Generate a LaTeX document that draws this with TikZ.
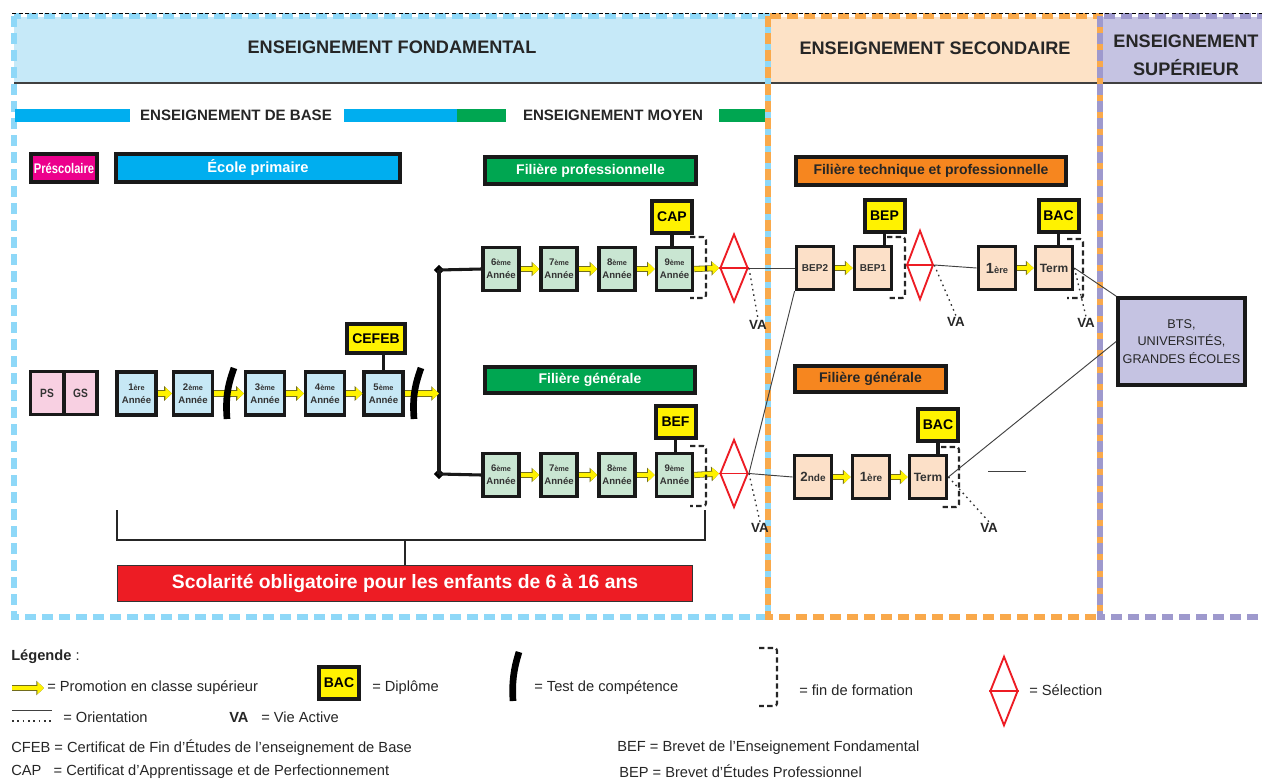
\documentclass[tikz,border=0pt]{standalone}
\usepackage{fontspec}
\setmainfont{Liberation Sans}
\usetikzlibrary{arrows.meta,shapes.geometric}

\definecolor{fondbg}{HTML}{C6E9F8}
\definecolor{fonddash}{HTML}{8ED8F8}
\definecolor{secbg}{HTML}{FDE2C6}
\definecolor{secdash}{HTML}{F9A94B}
\definecolor{supbg}{HTML}{C5C3E2}
\definecolor{supdash}{HTML}{9E99CD}
\definecolor{cyanbar}{HTML}{00AEEF}
\definecolor{vertbar}{HTML}{00A651}
\definecolor{prescol}{HTML}{EC008C}
\definecolor{orangebox}{HTML}{F6861F}
\definecolor{rouge}{HTML}{ED1C24}
\definecolor{jaune}{HTML}{FFF200}
\definecolor{primbg}{HTML}{C7E8F5}
\definecolor{moyenbg}{HTML}{C9E6D2}
\definecolor{secbox}{HTML}{FCE0C8}
\definecolor{psbg}{HTML}{F8D0E2}

\newcommand{\ord}[1]{{\fontsize{5.5}{5.5}\selectfont #1}}
\newcommand{\taille}[1]{\fontsize{#1}{#1}\selectfont}

\begin{document}
\begin{tikzpicture}[x=0.75pt, y=-0.75pt,
    cadre/.style={draw=#1, line width=4pt, dash pattern=on 8.25pt off 4.5pt},
    titre/.style={font=\bfseries\fontsize{13.6}{21}\selectfont, text=black!85, align=center},
    bande/.style={font=\bfseries\fontsize{11.3}{13}\selectfont, text=black!85},
    filiere/.style={draw=black!90, line width=3pt, minimum height=21pt, inner sep=0pt, font=\bfseries\fontsize{10.5}{12}\selectfont},
    annee/.style={draw=black!90, line width=2.6pt, minimum width=28pt, minimum height=32pt, inner sep=0pt, align=center, font=\bfseries\fontsize{7.2}{9.5}\selectfont, text=black!80},
    diplome/.style={draw=black!90, fill=jaune, line width=3pt, minimum width=30pt, minimum height=24pt, inner sep=0pt, font=\bfseries\fontsize{10.5}{12}\selectfont},
    promo/.style={draw=jaune, line width=3.4pt, -{Triangle[length=5pt,width=9pt]},
        preaction={draw=olive!75!black, line width=4.6pt, -{Triangle[length=5.8pt,width=10.6pt]}}},
    trait/.style={draw=black!90, line width=2.3pt},
    orient/.style={draw=black!75, line width=0.7pt},
    vadot/.style={draw=black!80, line width=1pt, dash pattern=on 1.2pt off 2.8pt},
    fin/.style={draw=black!85, line width=1.6pt, dash pattern=on 4pt off 2.5pt, rounded corners=2pt},
    selec/.style={diamond, draw=rouge, line width=1.4pt, minimum width=21pt, minimum height=51pt, inner sep=0pt},
    selligne/.style={draw=rouge, line width=1.4pt},
    jonction/.style={diamond, fill=black, inner sep=0pt, minimum size=8pt},
    testc/.style={draw=black, line width=5pt},
    va/.style={font=\bfseries\fontsize{10}{12}\selectfont, text=black!85, inner sep=1pt},
    leg/.style={anchor=west, inner sep=0pt, font=\fontsize{11}{12}\selectfont, text=black!85}
]
\useasboundingbox (0,0) rectangle (1262,778);

% cadres
\fill[fondbg] (14,17) rectangle (768,83);
\fill[secbg] (768,17) rectangle (1100,83);
\fill[supbg] (1100,17) rectangle (1262,83);
\draw[black!75, line width=1.1pt] (14,83) -- (1262,83);
\draw[cadre=fonddash] (14,16) rectangle (768,617);
\draw[cadre=secdash] (768,16) rectangle (1100,617);
\draw[cadre=supdash] (1100,16) rectangle (1280,617);
\draw[black, line width=0.5pt, dash pattern=on 3pt off 2pt] (12,13) -- (1262,13);

\node[titre] (hfond) at (392,47) {ENSEIGNEMENT FONDAMENTAL};
\node[titre] (hsec) at (935,48) {ENSEIGNEMENT SECONDAIRE};
\node[titre] (hsup) at (1186,55) {ENSEIGNEMENT\\SUPÉRIEUR};

\fill[cyanbar] (15,109) rectangle (130,122);
\fill[cyanbar] (344,109) rectangle (457,122);
\fill[vertbar] (457,109) rectangle (506,122);
\fill[vertbar] (719,109) rectangle (765,122);
\node[bande] (base) at (236,115) {ENSEIGNEMENT DE BASE};
\node[bande] (moyen) at (613,115) {ENSEIGNEMENT MOYEN};

% filieres
\node[filiere, fill=prescol, text=white, minimum width=49.5pt] (presco) at (64,168) {\scalebox{0.8}[1]{Préscolaire}};
\node[filiere, fill=cyanbar, text=white, minimum width=213pt, font=\bfseries\fontsize{11}{12}\selectfont] (primaire) at (258,168) {École primaire};
\node[filiere, fill=vertbar, text=white, minimum width=158pt, minimum height=20pt] (fpro) at (590.5,170.5) {Filière professionnelle};
\node[filiere, fill=vertbar, text=white, minimum width=157.5pt, minimum height=19.5pt] (fgen) at (590,380) {Filière générale};
\node[filiere, fill=orangebox, text=black!85, minimum width=202.5pt] (ftech) at (931,171) {Filière technique et professionnelle};
\node[filiere, fill=orangebox, text=black!85, minimum width=113pt, minimum height=19.5pt] (fgensec) at (870.5,379) {Filière générale};

% enseignement de base
\node[annee, fill=psbg, minimum width=25pt, font=\bfseries\fontsize{9}{10}\selectfont] (ps) at (47,393) {\scalebox{0.85}[1]{PS}};
\node[annee, fill=psbg, minimum width=25pt, font=\bfseries\fontsize{9}{10}\selectfont] (gs) at (80.5,393) {\scalebox{0.85}[1]{GS}};

\foreach \n/\x/\lab in {1/136.5/1\ord{ère}, 2/193/2\ord{ème}, 3/265/3\ord{ème}, 4/325/4\ord{ème}, 5/383.5/5\ord{ème}}
  \node[annee, fill=primbg, minimum width=29pt] (p\n) at (\x,393.5) {\lab\\Année};

\foreach \a/\b in {p1/p2, p2/p3, p3/p4, p4/p5}
  \draw[promo] (\a.east) -- (\b.west);

\node[diplome, minimum width=43.5pt, minimum height=22pt] (cefeb) at (376,338.5) {CEFEB};
\draw[trait] (p5.north) -- (p5.north |- cefeb.south);

% orientation apres la 5eme
\node[jonction] (jhaut) at (439,270) {};
\node[jonction] (jbas) at (439,474) {};
\coordinate (jmil) at (439,393.5);
\draw[trait] (jhaut.center) -- (jbas.center);
\draw[promo] (p5.east) -- (jmil);

\draw[testc] (234,368) to[bend right=12] (227,419);
\draw[testc] (421,368) to[bend right=12] (414,419);

% enseignement moyen
\foreach \n/\x in {6/501, 7/559, 8/617, 9/674.5} {
  \node[annee, fill=moyenbg, minimum width=27pt] (m\n) at (\x,269) {\n\ord{ème}\\Année};
  \node[annee, fill=moyenbg, minimum width=27pt] (g\n) at (\x,475) {\n\ord{ème}\\Année};
}
\draw[trait] (jhaut.center) -- (m6.west);
\draw[trait] (jbas.center) -- (g6.west);
\foreach \a/\b in {6/7, 7/8, 8/9} {
  \draw[promo] (m\a.east) -- (m\b.west);
  \draw[promo] (g\a.east) -- (g\b.west);
}

\node[diplome] (cap) at (672,217) {CAP};
\draw[trait] (cap.south) -- (cap.south |- m9.north);
\node[diplome] (bef) at (675.5,422) {BEF};
\draw[trait] (bef.south) -- (bef.south |- g9.north);

\node[selec] (sel1) at (734,268) {};
\draw[selligne] (sel1.west) -- (sel1.east);
\node[selec] (sel2) at (734,473.5) {};
\draw[selligne] (sel2.west) -- (sel2.east);
\draw[promo] (m9.east) -- (sel1.west);
\draw[promo] (g9.east) -- (sel2.west);

% fins de formation
\foreach \xa/\xb/\ya/\yb in {690/706/237/298, 690/706/446/506, 887/905/237/298, 1067/1083/239/298, 941/959/447/507}
  \draw[fin] (\xa,\ya) -- (\xb,\ya) -- (\xb,\yb) -- (\xa,\yb);

% scolarite obligatoire
\node[draw=black!80, line width=0.8pt, fill=rouge, text=white, minimum width=431pt, minimum height=27pt, inner sep=0pt, font=\bfseries\fontsize{14.5}{16}\selectfont] (scol) at (405,583.5) {Scolarité obligatoire pour les enfants de 6 à 16 ans};
\coordinate (accol) at (405,540);
\draw[draw=black!85, line width=1.6pt] (117,510) -- (117,540) -- (705,540) -- (705,510);
\draw[draw=black!85, line width=1.6pt] (accol) -- (scol.north);

% enseignement secondaire
\node[annee, fill=secbox, font=\bfseries\fontsize{7.5}{9}\selectfont] (bep2) at (815,268) {BEP2};
\node[annee, fill=secbox, font=\bfseries\fontsize{7.5}{9}\selectfont] (bep1) at (873,268) {BEP1};
\node[annee, fill=secbox, font=\bfseries\fontsize{11}{12}\selectfont] (t1ere) at (997,268) {1{\taille{7}ère}};
\node[annee, fill=secbox, font=\bfseries\fontsize{9}{10}\selectfont] (tterm) at (1054,268) {Term};
\node[annee, fill=secbox, font=\bfseries\fontsize{10}{12}\selectfont] (g2nde) at (813,477) {2{\taille{7.5}nde}};
\node[annee, fill=secbox, font=\bfseries\fontsize{10}{12}\selectfont] (g1ere) at (871,477) {1{\taille{7.5}ère}};
\node[annee, fill=secbox, font=\bfseries\fontsize{9}{10}\selectfont] (gterm) at (928,477) {Term};

\node[diplome] (bep) at (884.5,215.5) {BEP};
\draw[trait] (bep.south) -- (bep.south |- bep1.north);
\node[diplome] (bact) at (1058.5,215.5) {BAC};
\draw[trait] (bact.south) -- (bact.south |- tterm.north);
\node[diplome] (bacg) at (938,425) {BAC};
\draw[trait] (bacg.south) -- (bacg.south |- gterm.north);

\node[selec, minimum width=20pt, minimum height=52pt] (sel3) at (920,265) {};
\draw[selligne] (sel3.west) -- (sel3.east);

\draw[promo] (bep2.east) -- (bep1.west);
\draw[promo] (t1ere.east) -- (tterm.west);
\draw[promo] (g2nde.east) -- (g1ere.west);
\draw[promo] (g1ere.east) -- (gterm.west);

% enseignement superieur
\node[filiere, fill=supbg, minimum width=95pt, minimum height=65pt, align=center, font=\fontsize{9.5}{13}\selectfont, text=black!85] (bts) at (1181.5,341.5) {BTS,\\UNIVERSITÉS,\\GRANDES ÉCOLES};

% orientations
\draw[orient] (sel1.east) -- (bep2.west);
\draw[orient] (sel2.east) -- (g2nde.west);
\draw[orient] (sel2.east) -- (bep2.south west);
\draw[orient] (sel3.east) -- (t1ere.west);
\draw[orient] (tterm.east) -- (bts.north west);
\draw[orient] (gterm.east) -- (bts.west);
\coordinate (tr1) at (988,471);
\coordinate (tr2) at (1026,471);
\draw[orient] (tr1) -- (tr2);

% vie active
\node[va] (va1) at (758,325) {VA};
\node[va] (va2) at (760,528) {VA};
\node[va] (va3) at (956,322) {VA};
\node[va] (va4) at (1086,323) {VA};
\node[va] (va5) at (989,528) {VA};
\draw[vadot] (sel1.east) -- (va1.north);
\draw[vadot] (sel2.east) -- (va2.north);
\draw[vadot] (sel3.east) -- (va3.north);
\draw[vadot] (tterm.east) -- (va4.north);
\draw[vadot] (gterm.east) -- (va5.north);

% legende
\node[leg] (legende) at (11,657) {{\bfseries Légende} :};
\coordinate (la1) at (12,688);
\coordinate (la2) at (44,688);
\draw[promo] (la1) -- (la2);
\node[leg] (lpromo) at (47,688) {= Promotion en classe supérieur};
\node[diplome] (lbac) at (339,682.5) {BAC};
\node[leg] (ldip) at (372,688) {= Diplôme};
\draw[testc] (519,652) to[bend right=10] (513,701);
\node[leg] (ltest) at (534,688) {= Test de compétence};
\draw[fin] (759,648) -- (777,648) -- (777,706) -- (759,706);
\node[leg] (lfin) at (799,690) {= fin de formation};
\node[selec, minimum height=52pt] (lsel) at (1004,691) {};
\draw[selligne] (lsel.west) -- (lsel.east);
\node[leg] (lseltxt) at (1029,690) {= Sélection};
\draw[orient] (12,710) -- (52,710);
\draw[vadot] (12,721) -- (52,721);
\node[leg] (lorient) at (63,717) {= Orientation};
\node[va, anchor=west, inner sep=0pt, font=\bfseries\fontsize{11}{12}\selectfont] (lva) at (229,717) {VA};
\node[leg] (lvie) at (261,717) {= Vie Active};
\node[leg] (lcfeb) at (11,748) {CFEB = Certificat de Fin d’Études de l’enseignement de Base};
\node[leg] (lcap) at (11,772) {CAP\ \ \ = Certificat d’Apprentissage et de Perfectionnement};
\node[leg] (lbef) at (617,748) {BEF = Brevet de l’Enseignement Fondamental};
\node[leg] (lbep) at (619,771) {BEP = Brevet d’Études Professionnel};

\end{tikzpicture}
\end{document}
